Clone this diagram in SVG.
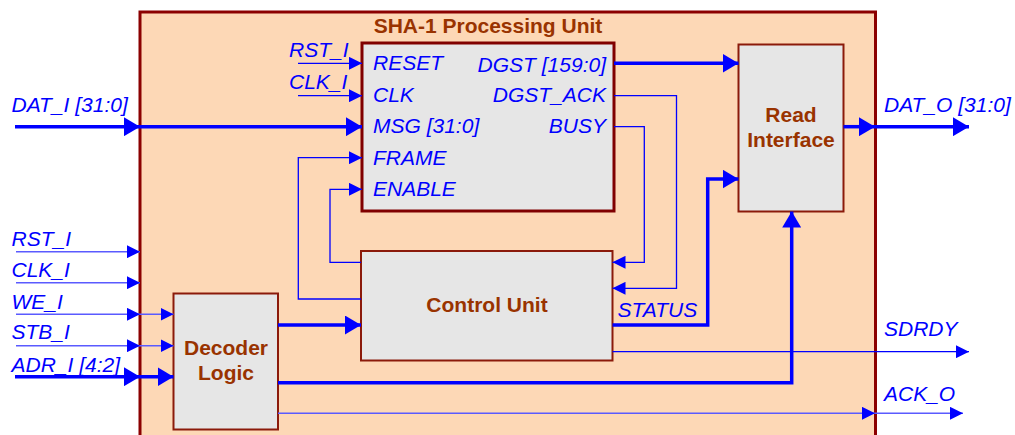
<svg xmlns="http://www.w3.org/2000/svg" width="1015" height="435" viewBox="0 0 1015 435">
  <style>
    .frame { fill: #FDD8B6; stroke: #8B0000; stroke-width: 3; }
    .block { fill: #E6E6E6; stroke: #8B1A0A; stroke-width: 2; }
    .core { fill: #E6E6E6; stroke: #800000; stroke-width: 3; }
    .title { font-family: "Liberation Sans", Arial, sans-serif; font-weight: bold; font-size: 21px; fill: #993300; }
    .sig { font-family: "Liberation Sans", Arial, sans-serif; font-style: italic; font-size: 21px; fill: #0000FF; }
    .bus { fill: none; stroke: #0000FF; stroke-width: 3.5; }
    .wire { fill: none; stroke: #0000FF; stroke-width: 1.3; }
    .wire-lt { fill: none; stroke: #5A5AFF; stroke-width: 1.6; }
  </style>
  <defs>
    <marker id="arrowBus" markerUnits="userSpaceOnUse" markerWidth="16" markerHeight="19" refX="16" refY="9.5" orient="auto">
      <path d="M0,0 L16,9.5 L0,19 z" fill="#0000FF"/>
    </marker>
    <marker id="arrowWire" markerUnits="userSpaceOnUse" markerWidth="13" markerHeight="13" refX="13" refY="6.5" orient="auto">
      <path d="M0,0 L13,6.5 L0,13 z" fill="#0000FF"/>
    </marker>
  </defs>

  <!-- enclosing unit -->
  <g id="sha1-unit">
    <rect class="frame" x="140" y="12" width="735.5" height="440"/>
    <text class="title" x="488" y="33" text-anchor="middle">SHA-1 Processing Unit</text>
  </g>

  <!-- hash core -->
  <g id="sha1-core">
    <rect class="core" x="362" y="43" width="252" height="168"/>
    <text class="sig" x="373" y="70">RESET</text>
    <text class="sig" x="373" y="101.5">CLK</text>
    <text class="sig" x="373" y="133">MSG [31:0]</text>
    <text class="sig" x="373" y="164.5">FRAME</text>
    <text class="sig" x="373" y="195.5">ENABLE</text>
    <text class="sig" x="606" y="71.5" text-anchor="end">DGST [159:0]</text>
    <text class="sig" x="606" y="102" text-anchor="end">DGST_ACK</text>
    <text class="sig" x="606" y="133" text-anchor="end">BUSY</text>
  </g>

  <g id="control-unit">
    <rect class="block" x="361" y="251" width="251.5" height="109.5"/>
    <text class="title" x="487" y="311.5" text-anchor="middle">Control Unit</text>
  </g>

  <g id="decoder-logic">
    <rect class="block" x="173.5" y="293.5" width="104.5" height="136"/>
    <text class="title" x="226" y="355" text-anchor="middle">Decoder</text>
    <text class="title" x="226" y="379.5" text-anchor="middle">Logic</text>
  </g>

  <g id="read-interface">
    <rect class="block" x="738.5" y="44.5" width="105" height="167"/>
    <text class="title" x="791" y="121.5" text-anchor="middle">Read</text>
    <text class="title" x="791" y="146.5" text-anchor="middle">Interface</text>
  </g>

  <!-- port labels -->
  <g id="port-labels">
    <text class="sig" x="11.5" y="111.5">DAT_I [31:0]</text>
    <text class="sig" x="289" y="56.5">RST_I</text>
    <text class="sig" x="289" y="88.5">CLK_I</text>
    <text class="sig" x="11.5" y="245.5">RST_I</text>
    <text class="sig" x="11.5" y="277">CLK_I</text>
    <text class="sig" x="11.5" y="309">WE_I</text>
    <text class="sig" x="11.5" y="339">STB_I</text>
    <text class="sig" x="11.5" y="371.5">ADR_I [4:2]</text>
    <text class="sig" x="884" y="111.5">DAT_O [31:0]</text>
    <text class="sig" x="884" y="336">SDRDY</text>
    <text class="sig" x="884" y="401">ACK_O</text>
    <text class="sig" x="617.5" y="316.5">STATUS</text>
  </g>

  <!-- connectors -->
  <g id="connectors">
    <!-- message bus -->
    <path class="bus" d="M15,126.7 H140" marker-end="url(#arrowBus)"/>
    <path class="bus" d="M140,126.7 H362" marker-end="url(#arrowBus)"/>
    <!-- core reset / clock -->
    <path class="wire" d="M298,63.3 H362" marker-end="url(#arrowWire)"/>
    <path class="wire" d="M298,95.7 H362" marker-end="url(#arrowWire)"/>
    <!-- control to core -->
    <path class="wire" d="M361,299 H298.3 V157.7 H362" marker-end="url(#arrowWire)"/>
    <path class="wire" d="M361,262.3 H330 V189.3 H362" marker-end="url(#arrowWire)"/>
    <!-- core status back to control -->
    <path class="wire" d="M614,95.7 H676.5 V288.3 H612.5" marker-end="url(#arrowWire)"/>
    <path class="wire" d="M614,126.7 H644.3 V262.3 H612.5" marker-end="url(#arrowWire)"/>
    <!-- digest to read interface -->
    <path class="bus" d="M614,63.3 H738.5" marker-end="url(#arrowBus)"/>
    <!-- status bus -->
    <path class="bus" d="M612.5,325 H707.7 V179 H738.5" marker-end="url(#arrowBus)"/>
    <!-- read data out -->
    <path class="bus" d="M843.5,126.7 H875" marker-end="url(#arrowBus)"/>
    <path class="bus" d="M875,126.7 H969" marker-end="url(#arrowBus)"/>
    <!-- bus side inputs -->
    <path class="wire-lt" d="M16,251.7 H140" marker-end="url(#arrowWire)"/>
    <path class="wire-lt" d="M16,282.7 H140" marker-end="url(#arrowWire)"/>
    <path class="wire-lt" d="M16,314.3 H140" marker-end="url(#arrowWire)"/>
    <path class="wire-lt" d="M140,314.3 H173.5" marker-end="url(#arrowWire)"/>
    <path class="wire-lt" d="M16,345.7 H140" marker-end="url(#arrowWire)"/>
    <path class="wire-lt" d="M140,345.7 H173.5" marker-end="url(#arrowWire)"/>
    <path class="bus" d="M15,376.7 H140" marker-end="url(#arrowBus)"/>
    <path class="bus" d="M140,376.7 H173.5" marker-end="url(#arrowBus)"/>
    <!-- decoder outputs -->
    <path class="bus" d="M278,325 H361" marker-end="url(#arrowBus)"/>
    <path class="bus" d="M278,382.7 H791.7 V211.5" marker-end="url(#arrowBus)"/>
    <path class="wire-lt" d="M278,413.3 H875" marker-end="url(#arrowWire)"/>
    <path class="wire-lt" d="M875,413.3 H963" marker-end="url(#arrowWire)"/>
    <!-- ready flag -->
    <path class="wire" d="M612.5,351.7 H969" marker-end="url(#arrowWire)"/>
  </g>
</svg>
